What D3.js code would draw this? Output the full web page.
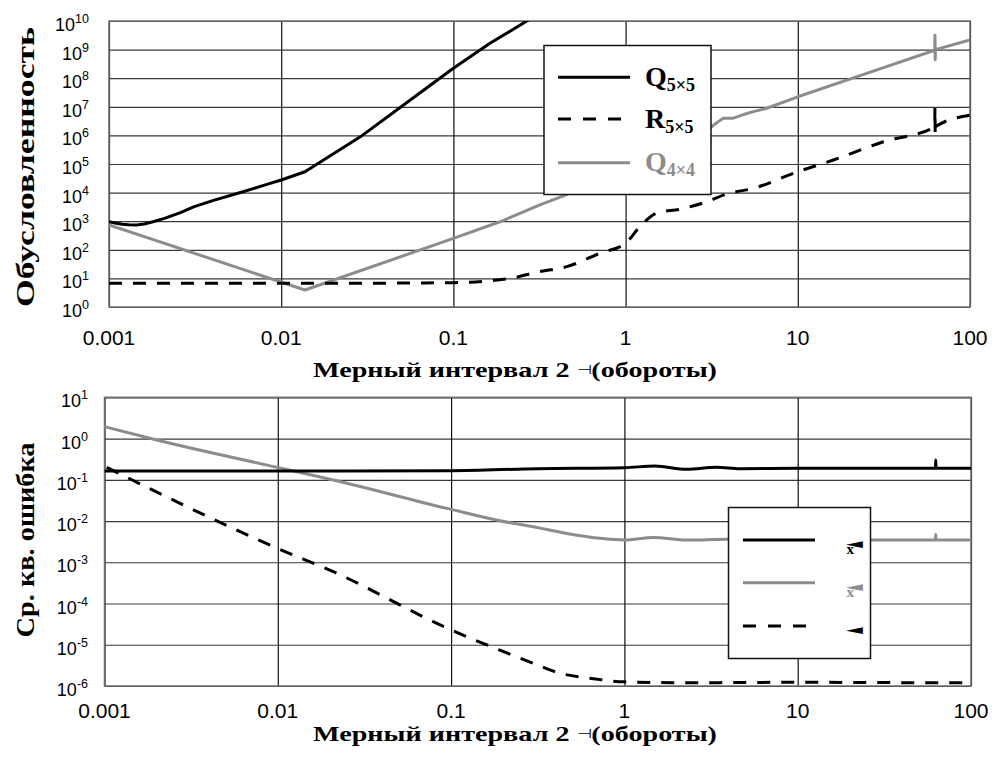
<!DOCTYPE html>
<html><head><meta charset="utf-8">
<script src="https://cdn.jsdelivr.net/npm/d3@7"></script>
<style>body{margin:0;background:#fff} svg{display:block}</style>
</head><body>
<svg id="c" width="993" height="763"></svg>
<script>
// ---------- data ----------
const xTicks = [0.001, 0.01, 0.1, 1, 10, 100];
const xTickLabels = ["0.001", "0.01", "0.1", "1", "10", "100"];
const topYExps = [0,1,2,3,4,5,6,7,8,9,10];
const botYExps = [-6,-5,-4,-3,-2,-1,0,1];
const xTitleParts = ["Мерный интервал 2 ", "\u22A3", "(обороты)"];
const topYTitle = "Обусловленность";
const botYTitle = "Ср. кв. ошибка";
const topLegend = [["Q","5\u00D75"],["R","5\u00D75"],["Q","4\u00D74"]];
const botLegendGlyph = ["x","x",""];

// top chart: condition numbers
const q5TopX = [0.001,0.0011,0.0012,0.0013,0.00145,0.0016,0.0018,0.0021,0.0026,0.0031,0.004,0.006,0.008,0.01,0.01374,0.0288,0.0562,0.1,0.163,0.267,0.3];
const q5TopY = [955,851,785,750,741,794,955,1259,1995,3162,5248,10715,18197,27542,53700,8.9e5,1.74e7,2.24e8,1.66e9,1e10,1.6e10];
const r5TopX = [0.001,0.01,0.03,0.1,0.213,0.318,0.455,0.711,1,1.21,1.51,2.07,2.96,3.86,5.52,10,16.1,31.4,62.4,62.6,62.8,63,100];
const r5TopY = [6.8,6.8,6.8,7.1,10,17.4,25.7,76,170,646,1905,2630,4786,8900,14100,53700,1.38e5,6.0e5,2.0e6,9.1e6,1.02e6,2.0e6,5.1e6];
const q4TopX = [0.001,0.01374,0.1,0.1866,0.318,0.451,1,1.58,2.51,3.16,3.39,3.69,4.22,4.79,5.52,6.6,10,25.1,62.4,62.6,62.8,63,100];
const q4TopY = [741,3.93,251,955,3715,8300,1e5,7.9e5,1.58e6,2.0e6,2.8e6,4e6,4e6,5.25e6,6.76e6,8.9e6,2.24e7,1.48e8,9.5e8,3.2e9,4.4e8,1.0e9,2.19e9];

// bottom chart: RMS error
const q5BotX = [0.001,0.01,0.1,0.316,1,1.5,2.29,3.41,4.65,10,30,62.4,62.6,62.8,100];
const q5BotY = [0.163,0.163,0.166,0.186,0.196,0.216,0.179,0.201,0.186,0.19,0.19,0.19,0.30,0.19,0.19];
const q4BotX = [0.001,0.002,0.00993,0.0209,0.1,0.191,0.298,0.465,0.723,1,1.47,2.29,4,10,30,62.4,62.6,62.8,100];
const q4BotY = [1.94,0.92,0.2,0.099,0.0192,0.0102,0.00724,0.005,0.0038,0.00347,0.00398,0.00347,0.0036,0.00347,0.00347,0.00347,0.0047,0.00347,0.00347];
const r5BotX = [0.00103,0.00993,0.0209,0.1,0.191,0.298,0.425,0.631,1,2.19,10,62.4,100];
const r5BotY = [0.2,0.00219,0.00059,2.29e-5,7.4e-6,3.55e-6,2.04e-6,1.55e-6,1.26e-6,1.2e-6,1.23e-6,1.2e-6,1.2e-6];

// ---------- drawing ----------
const svg = d3.select("#c");
const GRAY = "#8c8c8c";
const SANS = "Liberation Sans, Arial, sans-serif";
const SERIF = "Liberation Serif, Times New Roman, serif";

function panel(cfg){
  const x = d3.scaleLog().domain([0.001,100]).range([cfg.left, cfg.right]);
  const y = d3.scaleLog().domain([Math.pow(10,cfg.exps[0]), Math.pow(10,cfg.exps[cfg.exps.length-1])]).range([cfg.bottom, cfg.top]);
  const g = svg.append("g");
  const clipId = "clip"+cfg.id;
  svg.append("clipPath").attr("id",clipId).append("rect")
    .attr("x",cfg.left).attr("y",cfg.top).attr("width",cfg.right-cfg.left).attr("height",cfg.bottom-cfg.top);
  g.append("g").attr("transform",`translate(${cfg.left},0)`)
    .call(d3.axisLeft(y).tickValues(cfg.exps.map(e=>Math.pow(10,e))).tickSize(-(cfg.right-cfg.left)).tickFormat(""))
    .call(a=>{a.select(".domain").remove(); a.selectAll("line").attr("stroke","#3a3a3a").attr("stroke-width",1.2);});
  g.append("g").attr("transform",`translate(0,${cfg.bottom})`)
    .call(d3.axisBottom(x).tickValues(xTicks).tickSize(-(cfg.bottom-cfg.top)).tickFormat(""))
    .call(a=>{a.select(".domain").remove(); a.selectAll("line").attr("stroke","#111").attr("stroke-width",1.2);});
  g.append("rect").attr("x",cfg.left).attr("y",cfg.top).attr("width",cfg.right-cfg.left).attr("height",cfg.bottom-cfg.top)
    .attr("fill","none").attr("stroke","#6e6e6e").attr("stroke-width",1.5);
  g.selectAll("text.xt").data(xTicks).enter().append("text")
    .attr("x",d=>x(d)).attr("y",cfg.xLabelY).attr("text-anchor","middle")
    .attr("font-family",SANS).attr("font-size",21).attr("fill","#000")
    .text((d,i)=>xTickLabels[i]);
  cfg.exps.forEach(e=>{
    const t = g.append("text").attr("x",cfg.yLabelX).attr("y",y(Math.pow(10,e))+10)
      .attr("text-anchor","end").attr("font-family",SANS).attr("font-size",18).attr("fill","#000");
    t.append("tspan").text("10");
    t.append("tspan").attr("dy",-8).attr("font-size",12.5).text(String(e));
  });
  const xt = g.append("text").attr("x",515).attr("y",cfg.xTitleY).attr("text-anchor","middle")
    .attr("font-family",SERIF).attr("font-weight","bold").attr("font-size",21)
    .attr("textLength",404).attr("lengthAdjust","spacingAndGlyphs");
  xt.append("tspan").text(xTitleParts[0]);
  xt.append("tspan").attr("font-size",13).attr("dy",-3).attr("font-weight","normal").text(xTitleParts[1]);
  xt.append("tspan").attr("dy",3).text(xTitleParts[2]);
  g.append("text").attr("transform",`translate(34,${cfg.yTitleC}) rotate(-90)`).attr("text-anchor","middle")
    .attr("font-family",SERIF).attr("font-weight","bold").attr("font-size",26)
    .attr("textLength",cfg.yTitleLen).attr("lengthAdjust","spacingAndGlyphs").text(cfg.yTitle);
  const lines = g.append("g").attr("clip-path",`url(#${clipId})`);
  cfg.series.forEach(s=>{
    const pts = s.xs.map((v,i)=>[v,s.ys[i]]);
    lines.append("path").attr("d", d3.line().x(d=>x(d[0])).y(d=>y(d[1])).curve(s.curve||d3.curveMonotoneX)(pts))
      .attr("fill","none").attr("stroke",s.color).attr("stroke-width",3)
      .attr("stroke-dasharray",s.dash||null).attr("stroke-linejoin","round");
  });
  return {x,y,g};
}

panel({id:"t", left:109, right:970, top:21, bottom:307, exps:topYExps,
  xLabelY:345, yLabelX:89, xTitleY:377, yTitle:topYTitle, yTitleC:167, yTitleLen:280,
  series:[
    {xs:q4TopX, ys:q4TopY, color:GRAY, curve:d3.curveLinear},
    {xs:r5TopX, ys:r5TopY, color:"#000", dash:"13,11"},
    {xs:q5TopX, ys:q5TopY, color:"#000", curve:d3.curveLinear}
  ]});

panel({id:"b", left:104.5, right:971, top:397.3, bottom:686, exps:botYExps,
  xLabelY:718, yLabelX:88, xTitleY:741, yTitle:botYTitle, yTitleC:540, yTitleLen:195,
  series:[
    {xs:q4BotX, ys:q4BotY, color:GRAY},
    {xs:r5BotX, ys:r5BotY, color:"#000", dash:"13,11"},
    {xs:q5BotX, ys:q5BotY, color:"#000"}
  ]});

// top legend
const topStyles = [{c:"#000"},{c:"#000",d:"13,12"},{c:GRAY}];
const lt = svg.append("g");
lt.append("rect").attr("x",544).attr("y",45.5).attr("width",167).attr("height",149)
  .attr("fill","#fff").attr("stroke","#111").attr("stroke-width",1.5);
[77.3,119,162.7].forEach((ly,i)=>{
  lt.append("line").attr("x1",558).attr("x2",630).attr("y1",ly).attr("y2",ly)
    .attr("stroke",topStyles[i].c).attr("stroke-width",3).attr("stroke-dasharray",topStyles[i].d||null);
  const t = lt.append("text").attr("x",645).attr("y",ly+8.5).attr("font-family",SERIF).attr("font-weight","bold")
    .attr("font-size",28).attr("fill",topStyles[i].c);
  t.append("tspan").text(topLegend[i][0]);
  t.append("tspan").attr("dy",5).attr("font-size",18).text(topLegend[i][1]);
});

// bottom legend
const botStyles = [{c:"#000"},{c:GRAY},{c:"#000",d:"13,12"}];
const lb = svg.append("g");
lb.append("rect").attr("x",728.5).attr("y",507.5).attr("width",142).attr("height",151)
  .attr("fill","#fff").attr("stroke","#111").attr("stroke-width",1.5);
[540,582.7,626].forEach((ly,i)=>{
  lb.append("line").attr("x1",743).attr("x2",815).attr("y1",ly).attr("y2",ly)
    .attr("stroke",botStyles[i].c).attr("stroke-width",3).attr("stroke-dasharray",botStyles[i].d||null);
  lb.append("text").attr("transform",`translate(846,${ly+7}) scale(2.0,0.8)`)
    .attr("font-family","DejaVu Sans").attr("font-size",11).attr("fill",botStyles[i].c).text("\u25C0");
  if (botLegendGlyph[i]) {
    lb.append("text").attr("x",846.5).attr("y",ly+14).attr("font-family",SERIF).attr("font-weight","bold")
      .attr("font-size",15).attr("fill",botStyles[i].c).text(botLegendGlyph[i]);
  }
});
</script>
</body></html>
